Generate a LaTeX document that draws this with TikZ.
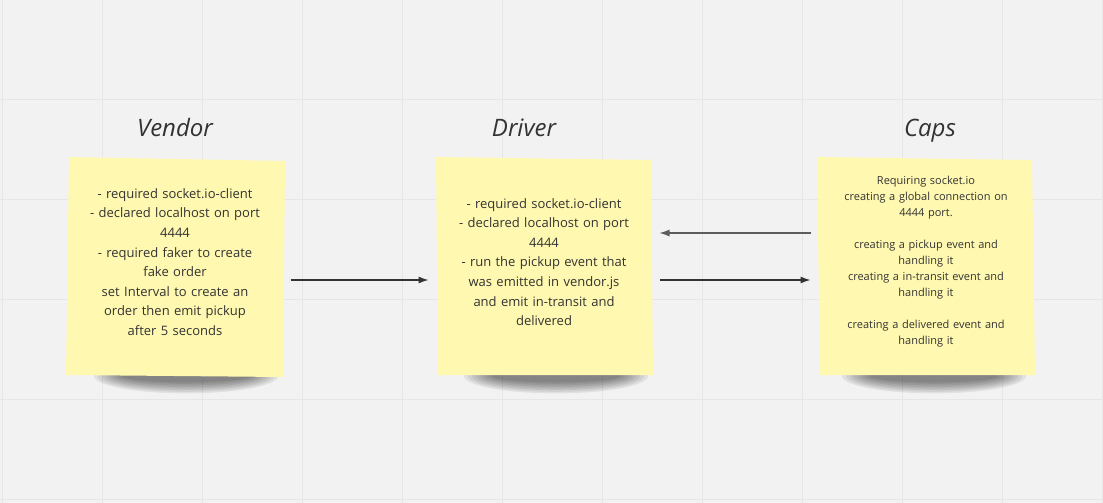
\documentclass[tikz,border=0pt]{standalone}
\usepackage{fontspec}
\setmainfont{Open Sans}
\usepackage{tikz}
\usetikzlibrary{arrows.meta,positioning}
\definecolor{board}{HTML}{F2F2F2}
\definecolor{gridline}{HTML}{E6E6E6}
\definecolor{sticky}{HTML}{FFF8B0}
\definecolor{ink}{HTML}{333333}

\begin{document}
\begin{tikzpicture}[x=1pt, y=-1pt,
    note/.style={align=center, text=ink, text width=215pt, minimum height=218pt, inner sep=0pt, outer sep=8pt, font=\fontsize{13}{19.6}\selectfont},
    smallnote/.style={note, font=\fontsize{11}{16}\selectfont},
    title/.style={text=ink, anchor=base, font=\fontsize{24}{28}\selectfont\itshape},
    link/.style={-{Latex[length=10pt,width=7pt]}, line width=1.2pt, ink}]
    % Draw board
    \fill[board] (0,0) rectangle (1103,503);
    \useasboundingbox (0,0) rectangle (1103,503);
    \foreach \gx in {2,102,...,1102} \draw[gridline, line width=1pt] (\gx,0) -- (\gx,503);
    \foreach \gy in {99,199,...,499} \draw[gridline, line width=1pt] (0,\gy) -- (1103,\gy);
    % Draw shadows
    \foreach \cx in {186,556,934} {
      \foreach \k in {1,...,8}
        \fill[black, opacity=0.07] (\cx,376) ellipse ({96-4*\k} and {19-1.6*\k});
    }
    % Draw sticky notes
    \fill[sticky] (69,157) -- (285,161) -- (283,377) -- (66,375) -- cycle;
    \fill[sticky] (436,157) -- (651,160) -- (653,375) -- (438,375) -- cycle;
    \fill[sticky] (817,157) -- (1032,160) -- (1035,375) -- (820,375) -- cycle;
    % Titles
    \node[title] (vendortitle) at (175,136) {Vendor};
    \node[title] (drivertitle) at (524,136) {Driver};
    \node[title] (capstitle) at (930,136) {Caps};
    % Notes
    \node[note] (vendor) at (175,262) {- required socket.io-client\\- declared localhost on port\\4444\\- required faker to create\\fake order\\set Interval to create an\\order then emit pickup\\after 5 seconds};
    \node[note] (driver) at (544,262) {- required socket.io-client\\- declared localhost on port\\4444\\- run the pickup event that\\was emitted in vendor.js\\and emit in-transit and\\delivered};
    \node[smallnote] (caps) at (926,262) {Requiring socket.io\\creating a global connection on\\4444 port.\\[16pt]creating a pickup event and\\handling it\\creating a in-transit event and\\handling it\\[16pt]creating a delivered event and\\handling it};
    % Draw connectors
    \draw[link] ([yshift=-18pt]vendor.east) -- ([yshift=-18pt]driver.west);
    \draw[link] ([yshift=-18pt]driver.east) -- ([yshift=-18pt]caps.west);
    \draw[link, ink!80] ([yshift=29pt]caps.west) -- ([yshift=29pt]driver.east);
\end{tikzpicture}
\end{document}
